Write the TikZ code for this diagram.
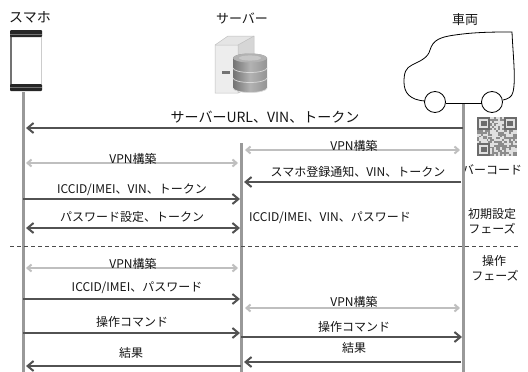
\documentclass[tikz,border=0pt]{standalone}
\usepackage{fontspec}
\setmainfont{Noto Sans CJK JP}
\usetikzlibrary{arrows.meta}
\begin{document}
\begin{tikzpicture}[x=1pt,y={(0pt,-1pt)},
  lbl/.style={font=\fontsize{12}{14}\selectfont, text=black!92, inner sep=0pt},
  head/.style={font=\fontsize{13}{15}\selectfont, text=black!92, inner sep=0pt},
  lifeline/.style={draw=black!40, line width=3pt},
  msg/.style={draw=black!68, line width=2pt, -{Straight Barb[length=6pt,width=10pt]}},
  msgboth/.style={draw=black!68, line width=2pt,
    {Straight Barb[length=6pt,width=10pt]}-{Straight Barb[length=6pt,width=10pt]}},
  vpn/.style={draw=black!25, line width=2pt,
    {Straight Barb[length=4pt,width=7pt]}-{Straight Barb[length=4pt,width=7pt]}},
  phase/.style={draw=black!70, line width=0.8pt, dash pattern=on 4pt off 3pt},
  qr/.style={fill=black!45},
  qrdark/.style={fill=black!58},
]
\useasboundingbox (0,0) rectangle (528,372);

% ---------- headers ----------
\node[head, font=\fontsize{14}{16}\selectfont] (hPhone) at (30,17) {スマホ};
\node[head] (hServer)  at (242,18) {サーバー};
\node[head] (hVehicle) at (465,20) {車両};

% ---------- smartphone icon ----------
\fill[white] (10,30) rectangle (42,91);
\draw[black!55, line width=1.6pt] (11,33) -- (11,88);
\draw[black!20, line width=0.8pt] (41.5,33) -- (41.5,88);
\fill[black!85, rounded corners=1pt] (10,30) rectangle (42,37);
\fill[black!85, rounded corners=1pt] (10,84) rectangle (42,91);
\draw[black!55, line width=0.4pt] (10,34) -- (42,34);
\draw[black!55, line width=0.4pt] (10,87.5) -- (42,87.5);

% ---------- server icon ----------
\fill[black!10] (228,36) -- (254,36) -- (238,45) -- (215,45) -- cycle;
\fill[black!16] (238,45) -- (254,36) -- (254,86) -- (238,93) -- cycle;
\fill[black!7]  (215,45) rectangle (238,93);
\draw[black!25, line width=0.5pt] (215,45) -- (228,36) -- (254,36) -- (254,86) -- (238,93) -- (215,93) -- cycle;
\draw[black!25, line width=0.5pt] (215,45) -- (238,45) -- (254,36) (238,45) -- (238,93);
\fill[black!55] (222,71) rectangle (230,74);
% disk stack (y grows downwards, so angle 90 is the lower rim)
\foreach \yy in {78, 68, 58}{
  \shade[left color=black!55, right color=black!42, middle color=black!30]
    (233,\yy) -- (233,\yy+10) arc[start angle=180,end angle=0,x radius=17,y radius=4.5]
     -- (267,\yy) arc[start angle=360,end angle=180,x radius=17,y radius=4.5] -- cycle;
  \draw[black!15, line width=0.7pt] (233,\yy+10) arc[start angle=180,end angle=0,x radius=17,y radius=4.5];
}
\fill[black!30] (250,58) ellipse[x radius=17,y radius=4.5];
\fill[black!22] (250,58) ellipse[x radius=11,y radius=2.6];

% ---------- vehicle outline ----------
\draw[black, line width=0.8pt]
  (425,101) .. controls (410,100) and (404,93) .. (404,82)
  .. controls (404,72) and (406,68) .. (412,65)
  .. controls (420,61) and (428,58) .. (430,50)
  .. controls (433,40) and (440,37) .. (455,35)
  .. controls (475,32) and (495,32) .. (512,32)
  .. controls (513,55) and (516,80) .. (513,92)
  .. controls (512,97) and (508,99) .. (503,100);
\draw[black, line width=0.8pt] (435,102) circle[radius=10.5];
\draw[black, line width=0.8pt] (492,102) circle[radius=10.5];
\draw[black, line width=0.8pt] (445.5,103) -- (481.5,103);

% ---------- QR code ----------
\fill[black!12] (477,117) rectangle (517,155.9);
\pgfmathsetseed{11}
\foreach \i in {0,...,20}{
  \foreach \j in {0,...,20}{
    \pgfmathtruncatemacro\on{rnd<0.5}
    \ifnum\on=1 \fill[qr] (477+\i*1.9,117+\j*1.85) rectangle ++(1.9,1.85);\fi
  }
}
\foreach \ox/\oy in {477/117, 477+26.6/117, 477/117+25.9}{
  \fill[black!12] (\ox,\oy) rectangle ++(13.3,12.95);
  \fill[qrdark] (\ox,\oy) rectangle ++(13.3,12.95);
  \fill[black!12] (\ox+1.9,\oy+1.85) rectangle ++(9.5,9.25);
  \fill[qrdark] (\ox+3.8,\oy+3.7) rectangle ++(5.7,5.55);
}
\node[lbl] (qrLabel) at (492,170) {バーコード};

% ---------- lifelines ----------
\coordinate (phoneTop) at (23,92);
\coordinate (phoneBot) at (23,372);
\coordinate (serverTop) at (241,143);
\coordinate (serverBot) at (241,372);
\coordinate (vehicleTop) at (463,104);
\coordinate (vehicleBot) at (463,372);
\draw[lifeline] (phoneTop) -- (phoneBot);
\draw[lifeline] (serverTop) -- (serverBot);
\draw[lifeline] (vehicleTop) -- (vehicleBot);

% ---------- setup phase ----------
\coordinate (v1a) at (463,128); \coordinate (p1a) at (26,128);
\draw[msg] (v1a) -- (p1a);
\node[lbl, font=\fontsize{14}{16}\selectfont] (l1) at (265,117) {サーバーURL、VIN、トークン};

\coordinate (s2a) at (245,150); \coordinate (v2a) at (460,150);
\draw[vpn] (s2a) -- (v2a);
\node[lbl] (l2) at (354,146) {VPN構築};

\coordinate (p3a) at (26,163); \coordinate (s3a) at (238,163);
\draw[vpn] (p3a) -- (s3a);
\node[lbl] (l3) at (133,159) {VPN構築};

\coordinate (v4a) at (461,182); \coordinate (s4a) at (244,182);
\draw[msg] (v4a) -- (s4a);
\node[lbl] (l4) at (358,172) {スマホ登録通知、VIN、トークン};

\coordinate (p5a) at (23,199); \coordinate (s5a) at (240,199);
\draw[msg] (p5a) -- (s5a);
\node[lbl] (l5) at (132,190) {ICCID/IMEI、VIN、トークン};

\coordinate (p6a) at (26,228); \coordinate (s6a) at (240,228);
\draw[msgboth] (p6a) -- (s6a);
\node[lbl] (l6) at (132,217) {パスワード設定、トークン};

\node[lbl] (l7) at (330,218) {ICCID/IMEI、VIN、パスワード};

\node[lbl] (phase1a) at (492,214) {初期設定};
\node[lbl] (phase1b) at (492,229) {フェーズ};

% ---------- phase separator ----------
\coordinate (sepL) at (10,246); \coordinate (sepR) at (519,246);
\draw[phase] (sepL) -- (sepR);

% ---------- operation phase ----------
\node[lbl] (phase2a) at (494,261) {操作};
\node[lbl] (phase2b) at (495,276) {フェーズ};

\coordinate (p8a) at (26,268); \coordinate (s8a) at (238,268);
\draw[vpn] (p8a) -- (s8a);
\node[lbl] (l8) at (133,264) {VPN構築};

\coordinate (p9a) at (23,299); \coordinate (s9a) at (240,299);
\draw[msg] (p9a) -- (s9a);
\node[lbl] (l9) at (137,288) {ICCID/IMEI、パスワード};

\coordinate (s10a) at (245,308); \coordinate (v10a) at (460,308);
\draw[vpn] (s10a) -- (v10a);
\node[lbl] (l10) at (354,302) {VPN構築};

\coordinate (p11a) at (23,333); \coordinate (s11a) at (240,333);
\draw[msg] (p11a) -- (s11a);
\node[lbl] (l11) at (132,322) {操作コマンド};

\coordinate (s12a) at (241,337); \coordinate (v12a) at (462,337);
\draw[msg] (s12a) -- (v12a);
\node[lbl] (l12) at (354,327) {操作コマンド};

\coordinate (s13a) at (241,366); \coordinate (p13a) at (26,366);
\draw[msg] (s13a) -- (p13a);
\node[lbl] (l13) at (131,353) {結果};

\coordinate (v14a) at (461,362); \coordinate (s14a) at (244,362);
\draw[msg] (v14a) -- (s14a);
\node[lbl] (l14) at (354,348) {結果};
\end{tikzpicture}
\end{document}
